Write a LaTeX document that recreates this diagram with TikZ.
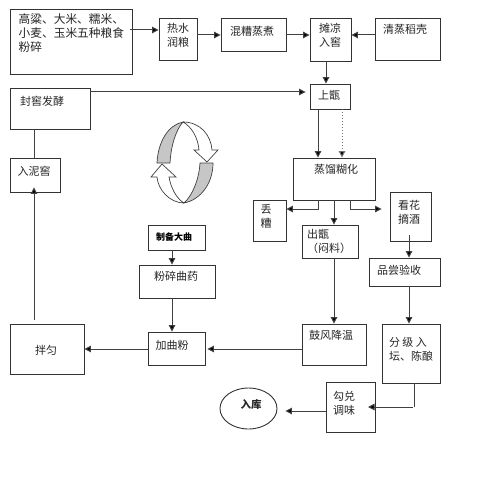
\documentclass[tikz,border=0pt]{standalone}
\usepackage{fontspec}
\setmainfont{Noto Sans CJK SC}
\usetikzlibrary{arrows.meta,shapes.geometric,calc}
\tikzset{
  box/.style={draw=black!80,line width=0.9pt,inner sep=0pt},
  lbl/.style={font=\fontsize{11}{14}\selectfont,text=black!85,inner sep=0pt,align=left},
  flow/.style={draw=black!75,line width=1pt,-{Triangle[length=6.5pt,width=6.5pt,fill=black]}},
  plain/.style={draw=black!75,line width=1pt},
}
\begin{document}
\begin{tikzpicture}[x=1pt,y=-1pt]
\useasboundingbox (0,0) rectangle (499,500);
\fill[white] (0,0) rectangle (499,500);
% boxes
\node[box,minimum width=38pt,minimum height=42pt] (B) at (178,39) {};
\node[box,minimum width=65pt,minimum height=33pt] (C) at (253.5,34.5) {};
\node[box,minimum width=41pt,minimum height=43pt] (D) at (330.5,39.5) {};
\node[box,minimum width=65pt,minimum height=42pt] (E) at (407.5,39) {};
\node[box,minimum width=122pt,minimum height=65pt] (A) at (71,41.5) {};
\node[box,minimum width=80pt,minimum height=41pt] (F) at (50,108.5) {};
\node[box,minimum width=40pt,minimum height=25pt] (G) at (330,96.5) {};
\node[box,minimum width=50pt,minimum height=34pt] (H) at (35,175) {};
\node[box,minimum width=82pt,minimum height=42pt] (I) at (334,179) {};
\node[box,minimum width=33pt,minimum height=41pt] (J) at (269.5,220.5) {};
\node[box,minimum width=56pt,minimum height=33pt] (K) at (330,241.5) {};
\node[box,minimum width=41pt,minimum height=49pt] (L) at (410.5,216.5) {};
\node[box,minimum width=71pt,minimum height=28pt] (M) at (404.5,272) {};
\node[box,minimum width=58pt,minimum height=59pt] (N) at (411,353.5) {};
\node[box,minimum width=64pt,minimum height=41pt] (O) at (334,344.5) {};
\node[box,minimum width=49pt,minimum height=50pt] (P) at (350.5,407) {};
\node[draw=black!80,line width=0.9pt,ellipse,minimum width=57pt,minimum height=41pt,inner sep=0pt] (Q) at (248.5,408.5) {};
\node[box,minimum width=57pt,minimum height=33pt] (R) at (176.5,348.5) {};
\node[box,minimum width=74pt,minimum height=50pt] (S) at (47,349) {};
\node[box,minimum width=76pt,minimum height=33pt] (T) at (177,281.5) {};
\node[box,minimum width=57pt,minimum height=25pt] (U) at (176.5,237.5) {};
% labels
\node[lbl,font=\fontsize{11.7}{14}\selectfont,anchor=north west] (tA) at (18.5,13.5) {高粱、大米、糯米、\\小麦、玉米五种粮食\\粉碎};
\node[lbl] (tB) at (178,35) {热水\\润粮};
\node[lbl] (tC) at (252,31) {混糟蒸煮};
\node[lbl] (tD) at (330,35) {摊凉\\入窖};
\node[lbl] (tE) at (405,29) {清蒸稻壳};
\node[lbl] (tF) at (42,101) {封窖发酵};
\node[lbl] (tG) at (329,95) {上甑};
\node[lbl] (tH) at (34,171) {入泥窖};
\node[lbl] (tI) at (336,169) {蒸馏糊化};
\node[lbl] (tJ) at (266,216) {丢\\糟};
\node[lbl] (tK) at (329,241) {出甑\\ （闷料）};
\node[lbl] (tL) at (409,212) {看花\\摘酒};
\node[lbl] (tM) at (399,270) {品尝验收};
\node[lbl] (tN) at (411,349) {分 级 入\\坛、陈酿};
\node[lbl] (tO) at (331,335) {鼓风降温};
\node[lbl] (tP) at (344,403) {勾兑\\调味};
\node[lbl,font=\fontsize{10.5}{14}\selectfont\bfseries] (tQ) at (251,404) {入库};
\node[lbl] (tR) at (172,345) {加曲粉};
\node[lbl] (tS) at (46,350) {拌匀};
\node[lbl] (tT) at (176,276) {粉碎曲药};
\node[lbl,font=\fontsize{9}{11}\selectfont\bfseries,text=black] (tU) at (174,237) {制备大曲};
% connectors
\draw[flow] (130,30) -- (B.west|-0,30);
\draw[flow] (B.east|-0,35) -- (C.west|-0,35);
\draw[flow] (C.east|-0,35) -- (D.west|-0,35);
\draw[flow] (E.west|-0,35) -- (D.east|-0,35);
\draw[flow] (326,0|-D.south) -- (326,0|-G.north);
\draw[flow] (F.east|-0,92) -- ([xshift=-4pt]G.west|-0,92);
\draw[flow] (318,0|-G.south) -- (318,0|-I.north);
\draw[flow,dotted,draw=black!55] (342,0|-G.south) -- (342,0|-I.north);
\draw[flow] (318,0|-I.south) |- (J.east|-0,209);
\draw[flow] (334,0|-I.south) -- (334,0|-K.north);
\draw[flow] (350,0|-I.south) |- ([xshift=-8pt]L.west|-0,209);
\draw[flow] (409,235) -- (409,0|-M.north);
\draw[flow] (409,0|-M.south) -- (409,0|-N.north);
\draw[flow] (334,0|-K.south) -- (334,0|-O.north);
\draw[flow] (O.west|-0,349) -- ([xshift=2pt]R.east|-0,349);
\draw[flow] (R.west|-0,349) -- (S.east|-0,349);
\draw[flow] (172,0|-U.south) -- (172,0|-T.north);
\draw[flow] (172,0|-T.south) -- (172,0|-R.north);
\draw[plain] (414,0|-N.south) -- (414,407);
\draw[flow] (413,407) -- (368,407);
\draw[flow] (P.west|-0,411) -- ([xshift=8pt]Q.east|-0,411);
\draw[plain] (34,0|-F.south) -- (34,0|-H.north);
\coordinate (sTop) at (34,320);
\draw[flow] (sTop) -- ([yshift=5pt]34,0|-H.south);
% cycle icon
\begin{scope}[line width=0.7pt]
\fill[gray!45,draw=black!75] (157,163) .. controls (158,142) and (168,125) .. (183,122) .. controls (176,130) and (171,145) .. (170,163) -- cycle;
\fill[gray!45,draw=black!75] (213,163) .. controls (213,184) and (200,200) .. (184,203) .. controls (192,196) and (199,180) .. (200,163) -- cycle;
\draw[black!75] (183,122) .. controls (200,122) and (211,135) .. (212,150) -- (218,150) -- (207,162) -- (194,150) -- (199,150) .. controls (198,138) and (192,127) .. (183,122);
\draw[black!75] (184,203) .. controls (170,203) and (158,190) .. (157,177) -- (151,177) -- (162,164) -- (176,177) -- (169,177) .. controls (171,188) and (176,198) .. (184,203);
\end{scope}
\end{tikzpicture}
\end{document}
